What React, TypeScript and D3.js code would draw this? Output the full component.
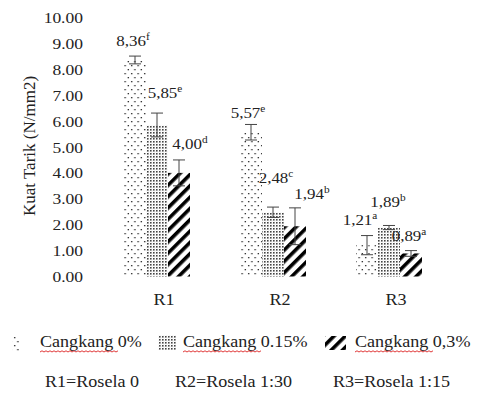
import React from "react";
import * as d3 from "d3";

const categories = ["R1", "R2", "R3"];
const seriesNames = ["Cangkang 0%", "Cangkang 0.15%", "Cangkang 0,3%"];
const values = [
  [8.36, 5.85, 4.0],
  [5.57, 2.48, 1.94],
  [1.21, 1.89, 0.89],
];
const errors = [
  [0.15, 0.46, 0.5],
  [0.3, 0.2, 0.71],
  [0.37, 0.08, 0.11],
];
const labelText = [
  ["8,36", "5,85", "4,00"],
  ["5,57", "2,48", "1,94"],
  ["1,21", "1,89", "0,89"],
];
const labelSup = [
  ["f", "e", "d"],
  ["e", "c", "b"],
  ["a", "b", "a"],
];
const yTicks = [0, 1, 2, 3, 4, 5, 6, 7, 8, 9, 10];
const notes = ["R1=Rosela 0", "R2=Rosela 1:30", "R3=Rosela 1:15"];

// manual label nudges (pixels) relative to bar centre / error cap
const LABEL_DX = [
  [-2, 8, 11],
  [-3, 3, 17],
  [-7, -1, -2],
];
const LABEL_DY = [
  [10, 15, 11],
  [6, 24, 9],
  [11, 18, 10],
];

const FONT = "'Liberation Serif', 'Times New Roman', serif";
const SX = 1.13;
const fills = ["url(#pDots)", "url(#pDense)", "url(#pHatch)"];

export default function App() {
  const W = 481;
  const H = 399;
  const y = d3.scaleLinear().domain([0, 10]).range([276.5, 17.5]);
  const x = d3.scaleBand().domain(categories).range([99, 447]).padding(0);
  const barW = 22;
  const sub = d3
    .scaleBand<number>()
    .domain([0, 1, 2])
    .range([-33, 33]);

  const legendSym = [12, 158, 325];
  const legendTxt = [40, 183, 355];
  const noteX = [45, 175, 333];

  const wavy = (x0: number, x1: number, yy: number) => {
    let d = `M${x0},${yy}`;
    let up = true;
    for (let xx = x0; xx < x1; xx += 2) {
      d += ` L${xx + 2},${yy + (up ? -1.2 : 0)}`;
      up = !up;
    }
    return d;
  };

  return (
    <svg
      width={W}
      height={H}
      style={{ position: "absolute", left: 0, top: 0, background: "#fff", fontFamily: FONT }}
      fontFamily={FONT}
    >
      <defs>
        <pattern id="pDots" width="6.5" height="8" patternUnits="userSpaceOnUse">
          <rect x="1" y="1" width="1.3" height="1.3" fill="#222" />
          <rect x="4.25" y="5" width="1.3" height="1.3" fill="#222" />
        </pattern>
        <pattern id="pDense" width="3" height="3" patternUnits="userSpaceOnUse">
          <rect x="0" y="0" width="1.6" height="1.6" fill="#444" />
          <rect x="1.5" y="1.5" width="0.8" height="0.8" fill="#bbb" />
        </pattern>
        <pattern
          id="pHatch"
          width="8"
          height="8"
          patternUnits="userSpaceOnUse"
          patternTransform="rotate(45)"
        >
          <rect x="0" y="0" width="3.6" height="8" fill="#000" />
        </pattern>
      </defs>
      <rect width={W} height={H} fill="#fff" />

      {/* y tick labels */}
      {yTicks.map((t) => (
        <text
          key={t}
          transform={`translate(83,${y(t) + 5.5}) scale(${SX},1)`}
          textAnchor="end"
          fontSize={15.5}
          fill="#222"
        >
          {t.toFixed(2)}
        </text>
      ))}

      {/* axis title */}
      <text
        transform={`translate(35,${146}) rotate(-90)`}
        textAnchor="middle"
        fontSize={17}
        fill="#222"
      >
        Kuat Tarik (N/mm2)
      </text>

      {/* bars */}
      {categories.map((c, ci) => {
        const cx = (x(c) as number) + x.bandwidth() / 2;
        return (
          <g key={c}>
            {values[ci].map((v, si) => {
              const bx = cx + (sub(si) as number);
              const mid = bx + barW / 2;
              const top = y(v + errors[ci][si]);
              const bot = y(v - errors[ci][si]);
              return (
                <g key={si}>
                  <rect x={bx} y={y(v)} width={barW} height={y(0) - y(v)} fill={fills[si]} />
                  <line x1={mid} x2={mid} y1={top} y2={bot} stroke="#444" strokeWidth={1} />
                  <line x1={mid - 6} x2={mid + 6} y1={top} y2={top} stroke="#444" strokeWidth={1} />
                  <line x1={mid - 6} x2={mid + 6} y1={bot} y2={bot} stroke="#444" strokeWidth={1} />
                  <text
                    transform={`translate(${mid + LABEL_DX[ci][si]},${top - LABEL_DY[ci][si]}) scale(${SX},1)`}
                    textAnchor="middle"
                    fontSize={15}
                    fill="#222"
                  >
                    {labelText[ci][si]}
                    <tspan fontSize={10} dy={-6}>
                      {labelSup[ci][si]}
                    </tspan>
                  </text>
                </g>
              );
            })}
            <text
              transform={`translate(${cx + 7},305) scale(${SX},1)`}
              textAnchor="middle"
              fontSize={16}
              fill="#222"
            >
              {c}
            </text>
          </g>
        );
      })}

      {/* legend */}
      {seriesNames.map((s, i) => {
        const sx = legendSym[i];
        const word = "Cangkang";
        const rest = s.slice(word.length);
        return (
          <g key={s}>
            {i === 2 ? (
              <g>
                <clipPath id="hclip">
                  <rect x={sx} y={336} width={21} height={14} />
                </clipPath>
                <rect x={sx} y={336} width={21} height={14} fill={fills[i]} clipPath="url(#hclip)" />
              </g>
            ) : (
              <rect x={sx} y={335} width={i === 0 ? 8 : 18} height={i === 0 ? 18 : 15} fill={fills[i]} />
            )}
            <text
              transform={`translate(${legendTxt[i]},347) scale(${SX},1)`}
              fontSize={16}
              fill="#222"
            >
              {word}
              {rest}
            </text>
            <path
              d={wavy(legendTxt[i], legendTxt[i] + 77, 352)}
              fill="none"
              stroke="#d22"
              strokeWidth={0.9}
            />
          </g>
        );
      })}

      {notes.map((n, i) => (
        <text
          key={n}
          transform={`translate(${noteX[i]},387) scale(${SX},1)`}
          fontSize={16}
          fill="#222"
        >
          {n}
        </text>
      ))}
    </svg>
  );
}
